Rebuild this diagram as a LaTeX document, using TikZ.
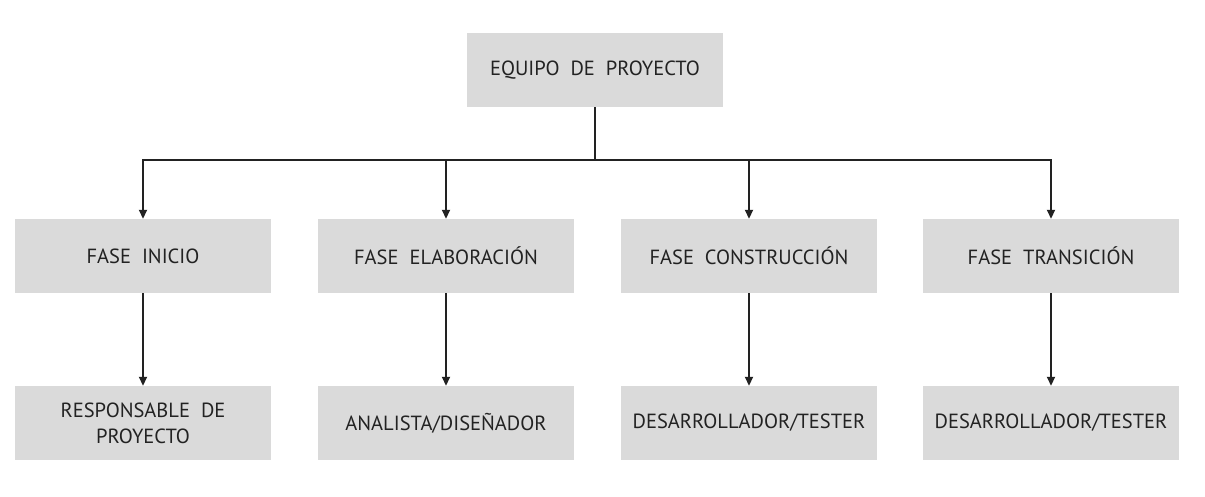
\documentclass[tikz,border=0pt]{standalone}
\usepackage{fontspec}
\setmainfont{PT Sans}
\usetikzlibrary{arrows.meta}
\definecolor{boxgray}{HTML}{DADADA}
\definecolor{ink}{HTML}{222222}
\newcommand{\boxfont}{\fontsize{20.5}{26}\selectfont\spaceskip=11pt\relax}
\begin{document}
\begin{tikzpicture}[x=1pt,y=1pt,
  box/.style={fill=boxgray,draw=none,minimum width=256pt,minimum height=74pt,inner sep=0pt,
    text=ink,font=\boxfont,align=center},
  link/.style={draw=ink,line width=1.8pt},
  arr/.style={link,-{Triangle[width=8pt,length=9pt]}}]
\useasboundingbox (0,0) rectangle (1205,497);
\node[box] (top) at (595,427) {EQUIPO DE PROYECTO};
\node[box] (f1) at (143,241) {FASE INICIO};
\node[box] (f2) at (446,241) {FASE ELABORACIÓN};
\node[box] (f3) at (749,241) {FASE CONSTRUCCIÓN};
\node[box] (f4) at (1051,241) {FASE TRANSICIÓN};
\node[box] (r1) at (143,74) {RESPONSABLE DE\\PROYECTO};
\node[box] (r2) at (446,74) {ANALISTA/DISEÑADOR};
\node[box] (r3) at (749,74) {DESARROLLADOR/TESTER};
\node[box] (r4) at (1051,74) {DESARROLLADOR/TESTER};
\coordinate (bus) at (595,337);
\draw[link] (top.south) -- (bus);
\foreach \f in {f1,f2,f3,f4} \draw[arr] (bus) -| (\f.north);
\draw[arr] (f1) -- (r1);
\draw[arr] (f2) -- (r2);
\draw[arr] (f3) -- (r3);
\draw[arr] (f4) -- (r4);
\end{tikzpicture}
\end{document}
